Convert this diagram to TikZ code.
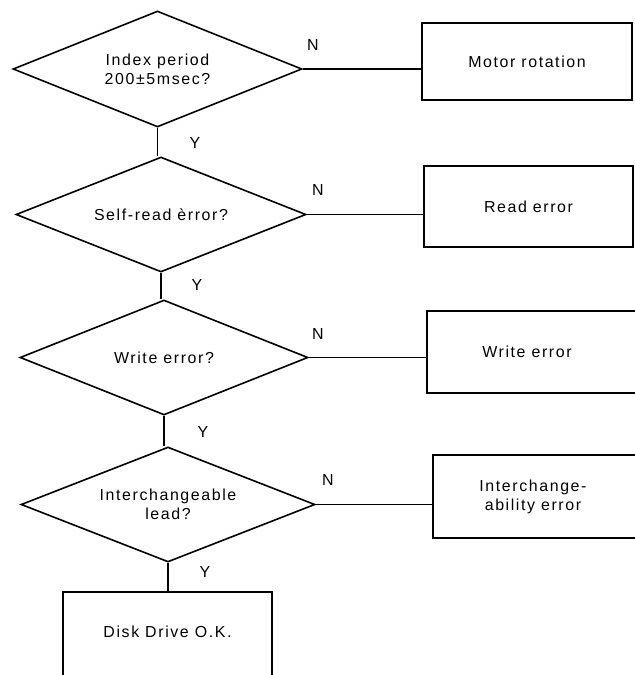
\documentclass[tikz,border=0pt]{standalone}
\usepackage{fontspec}
\setmainfont{Liberation Sans}[LetterSpace=10]
\usetikzlibrary{shapes.geometric}
\begin{document}
\begin{tikzpicture}[x=1bp,y=-1bp,
  every node/.style={font=\fontsize{16}{19}\selectfont},
  dec/.style={draw,line width=1.6bp,shape=diamond,aspect=2.5,inner sep=0pt,align=center},
  res/.style={draw,line width=1.6bp,rectangle,inner sep=0pt},
  conn/.style={line width=1.6bp},
  lbl/.style={inner sep=0pt}]
\useasboundingbox (0,0) rectangle (635,675);
\clip (0,0) rectangle (635,675);
% decisions
\node[dec,minimum width=289bp,minimum height=116bp] (D1) at (157.5,69) {Index period\\200±5msec?};
\node[dec,minimum width=290bp,minimum height=115bp] (D2) at (161,214.5) {Self-read èrror?};
\node[dec,minimum width=288bp,minimum height=115bp] (D3) at (164,357.5) {Write error?};
\node[dec,minimum width=294bp,minimum height=115bp] (D4) at (168,504.5) {Interchangeable\\lead?};
% results
\node[res,minimum width=210bp,minimum height=77bp] (B1) at (527,61.5) {Motor rotation};
\node[res,minimum width=209bp,minimum height=81bp] (B2) at (528.5,206.5) {Read error};
\node[res,minimum width=218bp,minimum height=82bp,label={[xshift=-9bp,align=center]center:Write error}] (B3) at (536,352) {};
\node[res,minimum width=212bp,minimum height=83bp,label={[xshift=-6bp,align=center]center:Interchange-\\ability error}] (B4) at (539,496.5) {};
\node[res,minimum width=209bp,minimum height=130bp,label={[yshift=25bp]center:Disk Drive O.K.}] (B5) at (167.5,657) {};
% connectors
\draw[conn] (D1.south) -- (D1.south |- D2.north);
\draw[conn] (D2.south) -- (D2.south |- D3.north);
\draw[conn] (D3.south) -- (D3.south |- D4.north);
\draw[conn] (D4.south) -- (D4.south |- B5.north);
\draw[conn] (D1.east) -- (D1.east -| B1.west);
\draw[conn] (D2.east) -- (D2.east -| B2.west);
\draw[conn] (D3.east) -- (D3.east -| B3.west);
\draw[conn] (D4.east) -- (D4.east -| B4.west);
% labels
\node[lbl] (N1) at (313,45) {N};
\node[lbl] (N2) at (318,190) {N};
\node[lbl] (N3) at (318,334) {N};
\node[lbl] (N4) at (328,480) {N};
\node[lbl] (Y1) at (195,143) {Y};
\node[lbl] (Y2) at (197,285) {Y};
\node[lbl] (Y3) at (203,432) {Y};
\node[lbl] (Y4) at (205,572) {Y};
\end{tikzpicture}
\end{document}
